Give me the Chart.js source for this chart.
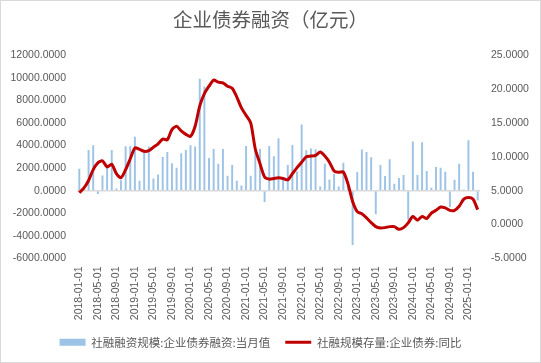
<!DOCTYPE html>
<html>
<head>
<meta charset="utf-8">
<script src="https://cdn.jsdelivr.net/npm/chart.js@4.4.1/dist/chart.umd.min.js"></script>
<style>
html,body{margin:0;padding:0;background:#fff;}
#wrap{width:541px;height:363px;position:relative;}
</style>
</head>
<body>
<div id="wrap"><canvas id="c" width="541" height="363"></canvas></div>
<script>
// ---- data ----
const startYear = 2018, monthCount = 87; // 2018-01 .. 2025-03
const categories = [];
for (let i = 0; i < monthCount; i++) {
  const y = startYear + Math.floor(i / 12), m = (i % 12) + 1;
  categories.push(y + '-' + String(m).padStart(2, '0') + '-01');
}
const bondFinancingMonthly = [
  1940, 150, 3600, 4020, -290, 1340, 2300, 3600, 200, 930, 3920, 3920,
  4780, 870, 3600, 3900, 1070, 1420, 2970, 3420, 2430, 2020, 3300, 3600,
  4020, 3910, 9900, 9220, 2900, 3680, 2380, 3680, 1310, 2270, 870, 450,
  3940, 1310, 3620, 3680, -1000, 3960, 3040, 4640, 1010, 2280, 4030, 1700,
  5860, 3570, 3740, 3660, 360, 2380, 980, 1480, 370, 2460, 500, -4810,
  1650, 3650, 3420, 2960, -2090, 2260, 1300, 2780, 610, 1130, 1390, -2550,
  4350, 1390, 4290, 1740, 260, 2090, 2030, 1680, -1450, 960, 2380, 100,
  4460, 1680, -870
];
const bondStockYoY = [
  4.7, 5.4, 6.5, 8.1, 9.1, 9.4, 8.5, 8.9, 7.5, 6.9, 8.1, 9.7,
  11.3, 11.1, 10.8, 10.9, 11.4, 11.9, 12.6, 12.5, 14.0, 14.5, 13.8, 13.3,
  13.0, 14.5, 17.5, 19.3, 20.4, 21.3, 21.0, 20.9, 20.4, 20.1, 18.8, 17.2,
  16.1, 15.0, 11.1, 9.0, 7.0, 6.7, 6.8, 6.9, 6.8, 6.6, 7.5, 8.4,
  9.2, 10.0, 10.1, 10.2, 10.7, 10.1, 9.2, 7.9, 7.7, 7.75, 6.0, 3.4,
  1.9, 1.6, 1.0, 0.3, -0.3, -0.5, -0.45, -0.3, -0.3, -0.7, -0.45, 0.25,
  1.2, 0.65, 1.2, 0.9, 1.7, 2.1, 2.6, 2.45, 2.1, 2.1, 2.7, 3.75,
  4.0, 3.75, 2.2
];
const leftAxisMin = -6000, leftAxisMax = 12000, leftAxisStep = 2000;
const rightAxisMin = -5, rightAxisMax = 25, rightAxisStep = 5;
const seriesNames = ['社融融资规模:企业债券融资:当月值', '社融规模存量:企业债券:同比'];
const chartTitle = '企业债券融资（亿元）';

// ---- chart ----
const txt = '#595959';
const tickFont = {family: 'Liberation Sans, Arial, sans-serif', size: 10.5};
const cjkFont = 'Noto Sans CJK SC, sans-serif';

const frame = {
  id: 'frame',
  beforeDraw(chart) {
    const ctx = chart.ctx;
    ctx.save();
    ctx.fillStyle = '#fff';
    ctx.fillRect(0, 0, chart.width, chart.height);
    ctx.strokeStyle = '#d9d9d9';
    ctx.lineWidth = 1;
    ctx.strokeRect(0.5, 0.5, chart.width - 1, chart.height - 1);
    ctx.restore();
  }
};
// nudge the (centred) legend row slightly left, as in the reference
const legendShift = {
  id: 'legendShift',
  afterLayout(chart) {
    const lg = chart.legend;
    if (lg) { lg.left -= 10; lg.right -= 10; }
  }
};

new Chart(document.getElementById('c'), {
  data: {
    labels: categories,
    datasets: [
      {
        type: 'bar',
        label: seriesNames[0],
        data: bondFinancingMonthly,
        backgroundColor: '#9DC3E6',
        borderWidth: 0,
        yAxisID: 'y',
        barPercentage: 0.42,
        categoryPercentage: 1.0,
        order: 2,
        pointStyle: 'rect'
      },
      {
        type: 'line',
        label: seriesNames[1],
        data: bondStockYoY,
        borderColor: '#C00000',
        backgroundColor: '#C00000',
        borderWidth: 3,
        pointRadius: 0,
        tension: 0.25,
        yAxisID: 'y1',
        order: 1,
        pointStyle: 'line'
      }
    ]
  },
  options: {
    responsive: false,
    animation: false,
    layout: {padding: {left: 0, right: 0, top: 0, bottom: 5}},
    plugins: {
      title: {
        display: true,
        text: chartTitle,
        color: txt,
        font: {family: cjkFont, size: 19.5, weight: 'normal'},
        padding: {top: 8, bottom: 23.6}
      },
      legend: {
        position: 'bottom',
        labels: {
          usePointStyle: true,
          pointStyleWidth: 26,
          boxHeight: 7,
          boxWidth: 26,
          padding: 15,
          color: txt,
          font: {family: cjkFont, size: 11.5},
          sort: (a, b) => a.datasetIndex - b.datasetIndex
        }
      },
      tooltip: {enabled: false}
    },
    scales: {
      x: {
        type: 'category',
        grid: {display: false, drawTicks: false},
        border: {display: false},
        ticks: {
          autoSkip: false,
          minRotation: 90,
          maxRotation: 90,
          padding: 8,
          color: txt,
          font: tickFont,
          callback: function (v, i) { return i % 4 === 0 ? this.getLabelForValue(v) : ''; }
        },
        afterFit: (s) => { s.height = 63; }
      },
      y: {
        position: 'left',
        min: leftAxisMin,
        max: leftAxisMax,
        border: {display: false},
        grid: {
          drawTicks: false,
          lineWidth: 1.5,
          color: (c) => (c.tick && c.tick.value === 0 ? '#d9d9d9' : 'rgba(0,0,0,0)')
        },
        ticks: {
          stepSize: leftAxisStep,
          padding: 11,
          color: txt,
          font: tickFont,
          callback: (v) => Number(v).toFixed(4)
        },
        afterFit: (s) => { s.width = 77; }
      },
      y1: {
        position: 'right',
        min: rightAxisMin,
        max: rightAxisMax,
        border: {display: false},
        grid: {display: false, drawTicks: false},
        ticks: {
          stepSize: rightAxisStep,
          padding: 11,
          color: txt,
          font: tickFont,
          callback: (v) => Number(v).toFixed(4)
        },
        afterFit: (s) => { s.width = 61; }
      }
    }
  },
  plugins: [frame, legendShift]
});
</script>
</body>
</html>
